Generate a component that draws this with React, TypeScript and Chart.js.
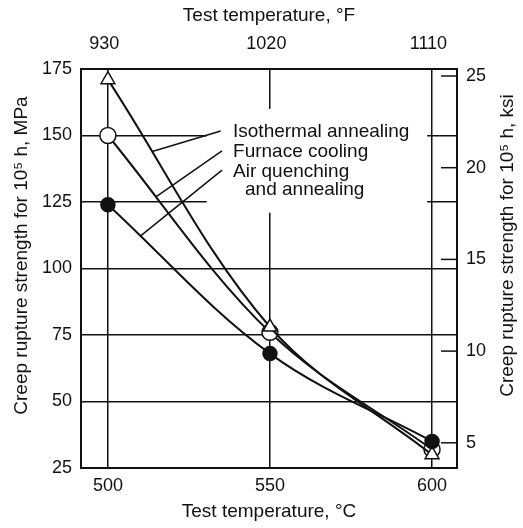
import React, { useEffect, useRef } from "react";
import { Chart, registerables } from "chart.js";

Chart.register(...registerables);

// ---- data ----
const TEMPS_C = [500, 550, 600];
const ISOTHERMAL = [171, 78, 30]; // open triangles
const FURNACE = [150, 76, 32]; // open circles
const AIR_QUENCH = [124, 68, 35]; // filled circles

const X_TICKS_C = [500, 550, 600];
const X_TICKS_F = [930, 1020, 1110];
const Y_TICKS_MPA = [25, 50, 75, 100, 125, 150, 175];
const Y_TICKS_KSI = [5, 10, 15, 20, 25];

const X_MIN_C = 491.7;
const X_MAX_C = 607.7;
const Y_MIN = 25;
const Y_MAX = 175;
const MPA_PER_KSI = 6.89476;

const NOTE_LINES = ["Isothermal annealing", "Furnace cooling", "Air quenching", "and annealing"];
const NOTE_X_C = [538.6, 538.6, 538.6, 542.3];
const NOTE_Y_MPA = [151.3, 143.8, 136.3, 129.5];
// leader lines: start at note line (x in °C, y in MPa) and end on curve (dataset index, bezier t)
const LEADER_START_C = [534.8, 535.2, 535.2];
const LEADER_START_MPA = [151.7, 144.2, 137.0];
const LEADER_DATASET = [1, 2, 0];
const LEADER_T = [0.28, 0.3, 0.2];
const NOTE_BOX_C = [530.5, 598.5];
const NOTE_BOX_MPA = [121, 160];

const TITLE_LEFT = "Creep rupture strength for 10\u2075 h, MPa";
const TITLE_RIGHT = "Creep rupture strength for 10\u2075 h, ksi";
const TITLE_BOTTOM = "Test temperature, \u00B0C";
const TITLE_TOP = "Test temperature, \u00B0F";

const FONT = "'Liberation Sans', Arial, Helvetica, sans-serif";
const INK = "#111";

const cToF = (c: number) => (c * 9) / 5 + 32;
const plain = (v: any) => String(v);

function bez(p0: any, p1: any, t: number) {
  const u = 1 - t;
  const x =
    u * u * u * p0.x + 3 * u * u * t * p0.cp2x + 3 * u * t * t * p1.cp1x + t * t * t * p1.x;
  const y =
    u * u * u * p0.y + 3 * u * u * t * p0.cp2y + 3 * u * t * t * p1.cp1y + t * t * t * p1.y;
  return { x, y };
}

const notesPlugin = {
  id: "notes",
  beforeDatasetsDraw(chart: any) {
    const { ctx, scales } = chart;
    const xs = scales.x;
    const ys = scales.y;
    const x0 = xs.getPixelForValue(NOTE_BOX_C[0]);
    const x1 = xs.getPixelForValue(NOTE_BOX_C[1]);
    const y0 = ys.getPixelForValue(NOTE_BOX_MPA[1]);
    const y1 = ys.getPixelForValue(NOTE_BOX_MPA[0]);
    ctx.save();
    ctx.fillStyle = "#ffffff";
    ctx.fillRect(x0, y0, x1 - x0, y1 - y0);
    ctx.restore();
  },
  afterDatasetsDraw(chart: any) {
    const { ctx, scales } = chart;
    const xs = scales.x;
    const ys = scales.y;
    ctx.save();
    ctx.fillStyle = INK;
    ctx.font = `19px ${FONT}`;
    ctx.textAlign = "left";
    ctx.textBaseline = "middle";
    NOTE_LINES.forEach((txt, i) => {
      ctx.fillText(txt, xs.getPixelForValue(NOTE_X_C[i]), ys.getPixelForValue(NOTE_Y_MPA[i]));
    });
    ctx.strokeStyle = INK;
    ctx.lineWidth = 1.5;
    LEADER_DATASET.forEach((di, i) => {
      const meta = chart.getDatasetMeta(di);
      const p0 = meta.data[0];
      const p1 = meta.data[1];
      const end = bez(p0, p1, LEADER_T[i]);
      ctx.beginPath();
      ctx.moveTo(xs.getPixelForValue(LEADER_START_C[i]), ys.getPixelForValue(LEADER_START_MPA[i]));
      ctx.lineTo(end.x, end.y);
      ctx.stroke();
    });
    ctx.restore();
  },
  afterDraw(chart: any) {
    const { ctx, scales, chartArea } = chart;
    const y2 = scales.y2;
    ctx.save();
    ctx.strokeStyle = INK;
    ctx.lineWidth = 1.5;
    Y_TICKS_KSI.forEach((v) => {
      const py = y2.getPixelForValue(v);
      ctx.beginPath();
      ctx.moveTo(chartArea.right - 16, py);
      ctx.lineTo(chartArea.right, py);
      ctx.stroke();
    });
    ctx.fillStyle = INK;
    ctx.font = `19px ${FONT}`;
    ctx.textAlign = "center";
    ctx.textBaseline = "middle";
    const cy = (chartArea.top + chartArea.bottom) / 2;
    ctx.save();
    ctx.translate(22, cy - 13);
    ctx.rotate(-Math.PI / 2);
    ctx.fillText(TITLE_LEFT, 0, 0);
    ctx.restore();
    ctx.save();
    ctx.translate(508, cy - 23);
    ctx.rotate(-Math.PI / 2);
    ctx.fillText(TITLE_RIGHT, 0, 0);
    ctx.restore();
    ctx.restore();
  },
};

export default function App() {
  const ref = useRef<HTMLCanvasElement | null>(null);

  useEffect(() => {
    if (!ref.current) return;
    Chart.defaults.font.family = FONT;
    Chart.defaults.color = INK;

    const mk = (label: string, data: number[], style: any, radius: number, fill: string) => ({
      label,
      data: TEMPS_C.map((x, i) => ({ x, y: data[i] })),
      borderColor: INK,
      borderWidth: 2,
      tension: 0.35,
      pointStyle: style,
      pointRadius: radius,
      pointBackgroundColor: fill,
      pointBorderColor: INK,
      pointBorderWidth: 1.5,
      fill: false,
    });

    const tickFont = { size: 18, family: FONT };

    const chart = new Chart(ref.current, {
      type: "line",
      data: {
        datasets: [
          mk("Air quenching and annealing", AIR_QUENCH, "circle", 7, INK),
          mk("Isothermal annealing", ISOTHERMAL, "triangle", 8, "#ffffff"),
          mk("Furnace cooling", FURNACE, "circle", 8, "#ffffff"),
        ],
      },
      options: {
        animation: false,
        responsive: false,
        events: [],
        layout: { padding: 0 },
        plugins: { legend: { display: false }, tooltip: { enabled: false }, title: { display: false } },
        scales: {
          x: {
            type: "linear",
            position: "bottom",
            min: X_MIN_C,
            max: X_MAX_C,
            afterBuildTicks: (s: any) => {
              s.ticks = X_TICKS_C.map((v) => ({ value: v }));
            },
            afterFit: (s: any) => {
              s.height = 60;
            },
            grid: { color: INK, lineWidth: 1.5, drawTicks: false },
            border: { display: true, color: INK, width: 2 },
            ticks: { font: tickFont, color: INK, padding: 7, maxRotation: 0, callback: plain },
            title: { display: true, text: TITLE_BOTTOM, font: { size: 19, family: FONT }, color: INK, padding: { top: 0, bottom: 5 } },
          },
          x2: {
            type: "linear",
            position: "top",
            min: cToF(X_MIN_C),
            max: cToF(X_MAX_C),
            afterBuildTicks: (s: any) => {
              s.ticks = X_TICKS_F.map((v) => ({ value: v }));
            },
            afterFit: (s: any) => {
              s.height = 69;
            },
            grid: { display: false },
            border: { display: true, color: INK, width: 2 },
            ticks: { font: tickFont, color: INK, padding: 6, maxRotation: 0, callback: plain },
            title: { display: true, text: TITLE_TOP, font: { size: 19, family: FONT }, color: INK, padding: { top: 4, bottom: 0 } },
          },
          y: {
            type: "linear",
            position: "left",
            min: Y_MIN,
            max: Y_MAX,
            afterBuildTicks: (s: any) => {
              s.ticks = Y_TICKS_MPA.map((v) => ({ value: v }));
            },
            afterFit: (s: any) => {
              s.width = 81;
            },
            grid: { color: INK, lineWidth: 1.5, drawTicks: false },
            border: { display: true, color: INK, width: 2 },
            ticks: { font: tickFont, color: INK, padding: 9, callback: plain },
          },
          y2: {
            type: "linear",
            position: "right",
            min: Y_MIN / MPA_PER_KSI,
            max: Y_MAX / MPA_PER_KSI,
            afterBuildTicks: (s: any) => {
              s.ticks = Y_TICKS_KSI.map((v) => ({ value: v }));
            },
            afterFit: (s: any) => {
              s.width = 66;
            },
            grid: { display: false },
            border: { display: true, color: INK, width: 2 },
            ticks: { font: tickFont, color: INK, padding: 1, callback: plain },
          },
        },
      } as any,
      plugins: [notesPlugin],
    });
    return () => chart.destroy();
  }, []);

  return (
    <div style={{ position: "absolute", left: 0, top: 0, width: 523, height: 528, background: "#fff" }}>
      <canvas ref={ref} width={523} height={528} style={{ display: "block", width: 523, height: 528 }} />
    </div>
  );
}
